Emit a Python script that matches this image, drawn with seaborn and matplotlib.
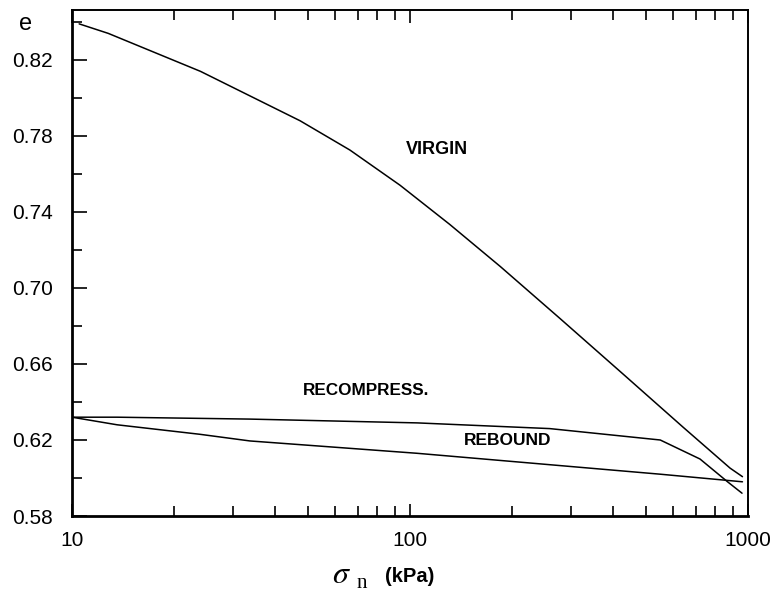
import numpy as np
import pandas as pd
import matplotlib
matplotlib.use("Agg")
import matplotlib.pyplot as plt
import seaborn as sns
from matplotlib.ticker import FixedLocator, NullFormatter, FixedFormatter

# ---- data ----
virgin_sigma = [10.5, 12.8, 24, 47.3, 66.4, 93.4, 131, 185, 278, 432, 643, 885, 963]
virgin_e     = [0.839, 0.834, 0.814, 0.788, 0.7726, 0.7541, 0.7335, 0.7113, 0.6839,
                0.6539, 0.6267, 0.6052, 0.6007]

recomp_sigma = [10, 13.6, 33.6, 105, 259, 550, 721, 870, 960]
recomp_e     = [0.632, 0.632, 0.631, 0.629, 0.626, 0.620, 0.610, 0.598, 0.592]

rebound_sigma = [10, 13.6, 23.9, 33.6, 105, 259, 550, 963]
rebound_e     = [0.632, 0.628, 0.623, 0.6195, 0.613, 0.607, 0.602, 0.598]

y_ticks = [0.58, 0.62, 0.66, 0.70, 0.74, 0.78, 0.82]
y_tick_labels = ["0.58", "0.62", "0.66", "0.70", "0.74", "0.78", "0.82"]
x_ticks = [10, 100, 1000]
x_tick_labels = ["10", "100", "1000"]

labels = {"VIRGIN": (120, 0.773, 13), "RECOMPRESS.": (74, 0.6458, 12.3),
          "REBOUND": (194, 0.6195, 12.5)}

sns.set_style("ticks")
plt.rcParams["font.family"] = ["Liberation Sans", "DejaVu Sans"]
plt.rcParams["mathtext.fontset"] = "stix"
plt.rcParams["text.color"] = "black"

fig = plt.figure(figsize=(7.79, 5.91), dpi=100)
ax = fig.add_axes([72/779, 1-516/591, (748-72)/779, (516-10)/591])

df = pd.concat([
    pd.DataFrame({"sigma": virgin_sigma, "e": virgin_e, "curve": "virgin"}),
    pd.DataFrame({"sigma": recomp_sigma, "e": recomp_e, "curve": "recompress"}),
    pd.DataFrame({"sigma": rebound_sigma, "e": rebound_e, "curve": "rebound"}),
])
for name in ["virgin", "recompress", "rebound"]:
    sns.lineplot(data=df[df.curve == name], x="sigma", y="e", ax=ax,
                 color="black", lw=1.1, sort=False, estimator=None)

ax.set_xscale("log")
ax.set_xlim(10, 1000)
ax.set_ylim(0.58, 0.8463)

ax.xaxis.set_major_locator(FixedLocator(x_ticks))
ax.xaxis.set_major_formatter(FixedFormatter(x_tick_labels))
minors = [v * d for d in (10, 100) for v in range(2, 10)]
ax.xaxis.set_minor_locator(FixedLocator(minors))
ax.xaxis.set_minor_formatter(NullFormatter())

ax.yaxis.set_major_locator(FixedLocator(y_ticks))
ax.yaxis.set_major_formatter(FixedFormatter(y_tick_labels))
ax.yaxis.set_minor_locator(FixedLocator([0.60, 0.64, 0.68, 0.72, 0.76, 0.80, 0.84]))

ax.tick_params(axis="x", which="both", direction="in", top=True, bottom=True,
               labelsize=15, pad=11, colors="black", width=1.2)
ax.tick_params(axis="x", which="major", length=9)
ax.tick_params(axis="x", which="minor", length=7)
ax.tick_params(axis="y", which="both", direction="in", left=True, right=False,
               labelsize=15, pad=14, colors="black", width=1.2)
ax.tick_params(axis="y", which="major", length=11)
ax.tick_params(axis="y", which="minor", length=7)

for s in ["left", "bottom"]:
    ax.spines[s].set_linewidth(2.0)
for s in ["top", "right"]:
    ax.spines[s].set_linewidth(1.4)
for s in ax.spines.values():
    s.set_color("black")

ax.set_xlabel("")
ax.set_ylabel("")

for txt, (x, y, fs) in labels.items():
    ax.text(x, y, txt, ha="center", va="center", fontsize=fs, fontweight="bold",
            color="black")

fig.text(26/779, 1-24/591, "e", ha="center", va="center", fontsize=17, color="black")
fig.text(341/779, 1-575/591, r"$\sigma$", ha="center", va="center", fontsize=23,
         color="black")
fig.text(362/779, 1-583/591, "n", ha="center", va="center", fontsize=15,
         family="Liberation Serif", color="black")
fig.text(410/779, 1-576/591, "(kPa)", ha="center", va="center", fontsize=14.5,
         fontweight="bold", color="black")

fig.savefig("out.png", dpi=100)
